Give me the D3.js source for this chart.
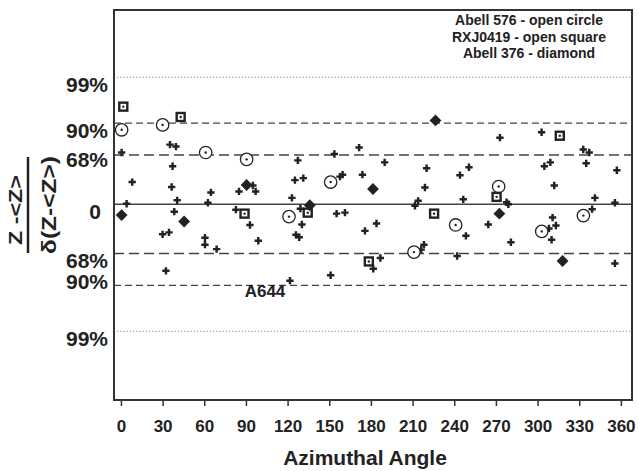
<!DOCTYPE html>
<html>
<head>
<meta charset="utf-8">
<script src="https://cdn.jsdelivr.net/npm/d3@7"></script>
<style>
  body { margin: 0; background: #fff; }
  text { font-family: "Liberation Sans", Arial, sans-serif; font-weight: bold; fill: #222; }
</style>
</head>
<body>
<svg id="chart" width="639" height="471"></svg>
<script>
// azimuthal angle (deg) and normalised deviation for each sample
const plusAngle = [0.5, 35.3, 39.6, 37.2, 8.1, 36.5, 4.1, 40.5, 38.4, 30, 34.6, 32.4,
  64.8, 62.6, 85, 97, 82.8, 92.9, 98.9, 60.5, 60.5, 68.9, 95,
  127.4, 125.3, 131.3, 123.1, 129.2, 130.3, 126, 128.4, 121.7,
  153.7, 171.5, 157.7, 159.6, 173.9, 155.3, 161.3, 175.7, 151,
  189.9, 220.1, 218.9, 214, 211.7, 184, 216.2, 218.2, 181.7, 186.8,
  242.1, 246.5, 248.4, 264.5, 277.7, 279, 280.8, 272.9, 250.6, 244.1,
  302.9, 332.9, 337.2, 335, 304.9, 309.2, 357.1, 312, 341.3, 355.7,
  339.3, 310.8, 313.2, 308.2, 310.1, 355.7]
const plusDev = [1.05, 1.21, 1.17, 0.77, 0.45, 0.35, 0.01, 0.08, -0.15, -0.61, -0.57, -1.35,
  0.24, 0.03, 0.26, 0.26, -0.11, -0.42, -0.74, -0.68, -0.82, -0.91, 0.38,
  0.89, 0.49, 0.53, 0.13, -0.09, -0.41, -0.62, -0.67, -1.55,
  1.02, 1.15, 0.56, 0.6, 0.6, -0.19, -0.17, -0.54, -1.44,
  0.85, 0.73, 0.34, 0.07, -0.03, -0.39, -0.92, -0.82, -1.31, -1.09,
  -1.05, 0.1, -0.64, -0.41, 0.04, 0, -0.77, 1.35, 0.75, 0.59,
  1.46, 1.11, 1.05, 0.83, 0.77, 0.85, 0.69, 0.38, 0.13, 0.03,
  -0.1, -0.27, -0.43, -0.49, -0.72, -1.2]

// Abell 576 - open circle
const circleAngle = [0.5, 30, 61, 90.5, 121, 151, 211, 241, 272, 303, 333]
const circleDev = [1.51, 1.61, 1.05, 0.91, -0.25, 0.45, -0.97, -0.42, 0.36, -0.55, -0.23]

// RXJ0419 - open square
const squareAngle = [1.7, 43, 89, 134.5, 178.5, 225.5, 270.5, 316]
const squareDev = [1.98, 1.77, -0.19, -0.17, -1.16, -0.19, 0.15, 1.39]

// Abell 376 - diamond
const diamondAngle = [0.5, 45.5, 90.5, 136, 181.5, 226.5, 272.5, 318]
const diamondDev = [-0.22, -0.35, 0.39, -0.02, 0.31, 1.7, -0.19, -1.15]

const xTicks = [0, 30, 60, 90, 120, 150, 180, 210, 240, 270, 300, 330, 360]
const yTicks = [2.576, 1.645, 1, 0, -1, -1.645, -2.576]
const yTickLabels = ["99%", "90%", "68%", "0", "68%", "90%", "99%"]
const legendLines = ["Abell 576 - open circle", "RXJ0419 - open square", "Abell 376 - diamond"]

const zip = (a, b) => a.map((v, i) => ({ a: v, d: b[i] }))

const svg = d3.select("#chart")
const plotL = 114, plotR = 632, plotT = 10, plotB = 400

const x = d3.scaleLinear().domain([-5, 368]).range([plotL, plotR])
const y = d3.scaleLinear().domain([-3.97, 3.94]).range([plotB, plotT])

// reference lines
const dash = v => v === 0 ? null : Math.abs(v) > 2 ? "1.2,2" : Math.abs(v) > 1.2 ? "7,4" : "10,5"
svg.append("g").selectAll("line")
  .data(yTicks)
  .join("line")
  .attr("x1", plotL).attr("x2", plotR)
  .attr("y1", d => y(d)).attr("y2", d => y(d))
  .attr("stroke", d => Math.abs(d) > 2 ? "#888" : "#444")
  .attr("stroke-width", d => Math.abs(d) > 2 ? 1 : 1.4)
  .attr("stroke-dasharray", d => dash(d))

// frame
svg.append("rect")
  .attr("x", plotL).attr("y", plotT)
  .attr("width", plotR - plotL).attr("height", plotB - plotT)
  .attr("fill", "none").attr("stroke", "#333").attr("stroke-width", 2)

// x axis
const xAxis = svg.append("g")
  .attr("transform", `translate(0,${plotB + 1})`)
  .call(d3.axisBottom(x).tickValues(xTicks).tickSize(5).tickPadding(14))
xAxis.select(".domain").remove()
xAxis.selectAll(".tick line").attr("stroke", "#333").attr("stroke-width", 1.5)
xAxis.attr("font-family", null).attr("font-size", null)
xAxis.selectAll(".tick text").style("font-size", "17px")

// y tick labels
const nudge = { 5: -11, 2: -3 }
svg.append("g").selectAll("text")
  .data(yTicks)
  .join("text")
  .attr("x", (d, i) => yTickLabels[i] === "0" ? 101 : 108)
  .attr("y", (d, i) => y(d) + 7 + (nudge[i] || 0))
  .attr("dy", "0.36em")
  .attr("text-anchor", "end")
  .style("font-size", "21px")
  .text((d, i) => yTickLabels[i])

// markers
const ink = "#222"
const marks = svg.append("g")

marks.selectAll(".plus")
  .data(zip(plusAngle, plusDev))
  .join("path")
  .attr("class", "plus")
  .attr("transform", d => `translate(${x(d.a)},${y(d.d)})`)
  .attr("d", d3.symbol(d3.symbolCross, 30))
  .attr("fill", ink)

const circ = marks.selectAll(".circ")
  .data(zip(circleAngle, circleDev))
  .join("g")
  .attr("class", "circ")
  .attr("transform", d => `translate(${x(d.a)},${y(d.d)})`)
circ.append("circle").attr("r", 6.2).attr("fill", "#fff").attr("stroke", ink).attr("stroke-width", 1.3)
circ.append("circle").attr("r", 1.2).attr("fill", ink)

const sq = marks.selectAll(".sq")
  .data(zip(squareAngle, squareDev))
  .join("g")
  .attr("class", "sq")
  .attr("transform", d => `translate(${x(d.a)},${y(d.d)})`)
sq.append("rect").attr("x", -4).attr("y", -4).attr("width", 8).attr("height", 8)
  .attr("fill", "#fff").attr("stroke", ink).attr("stroke-width", 2.4)
sq.append("circle").attr("r", 1.2).attr("fill", ink)

marks.selectAll(".dia")
  .data(zip(diamondAngle, diamondDev))
  .join("path")
  .attr("class", "dia")
  .attr("transform", d => `translate(${x(d.a)},${y(d.d)}) rotate(45)`)
  .attr("d", d3.symbol(d3.symbolSquare, 70))
  .attr("fill", ink)

// legend
svg.append("g").selectAll("text")
  .data(legendLines)
  .join("text")
  .attr("x", 529)
  .attr("y", (d, i) => 25 + i * 16.5)
  .attr("text-anchor", "middle")
  .style("font-size", "14px")
  .text(d => d)

svg.append("text")
  .attr("x", 265).attr("y", 297)
  .attr("text-anchor", "middle")
  .style("font-size", "17px")
  .text("A644")

// axis titles
svg.append("text")
  .attr("x", 365).attr("y", 465)
  .attr("text-anchor", "middle")
  .style("font-size", "21px")
  .text("Azimuthal Angle")

svg.append("text")
  .attr("transform", "translate(22,210) rotate(-90)")
  .attr("text-anchor", "middle")
  .attr("textLength", 70).attr("lengthAdjust", "spacingAndGlyphs")
  .style("font-size", "18px")
  .text("Z -<Z>")
svg.append("line")
  .attr("x1", 28).attr("x2", 28).attr("y1", 157).attr("y2", 253)
  .attr("stroke", ink).attr("stroke-width", 2.5)
svg.append("text")
  .attr("transform", "translate(56,205) rotate(-90)")
  .attr("text-anchor", "middle")
  .attr("textLength", 98).attr("lengthAdjust", "spacingAndGlyphs")
  .style("font-size", "20px")
  .text("δ(Z-<Z>)")
</script>
</body>
</html>
